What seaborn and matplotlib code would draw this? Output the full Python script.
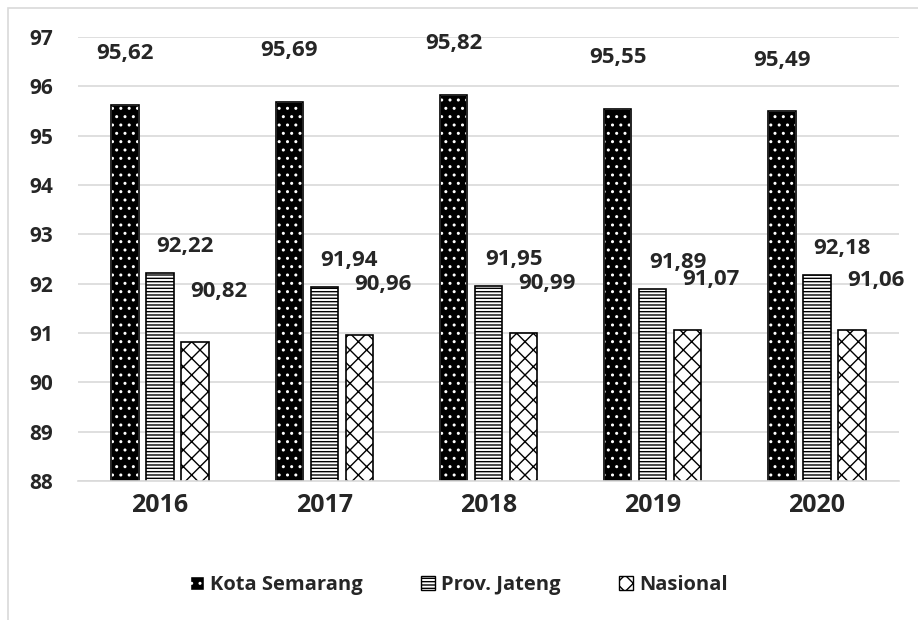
import pandas as pd
import matplotlib.pyplot as plt
import seaborn as sns
from matplotlib.patches import Rectangle

sns.set_style("white")
plt.rcParams["font.family"] = ["Open Sans", "DejaVu Sans"]
plt.rcParams["font.weight"] = "bold"
plt.rcParams["hatch.linewidth"] = 1.0

years = ["2016", "2017", "2018", "2019", "2020"]
series = ["Kota Semarang", "Prov. Jateng", "Nasional"]
kota = [95.62, 95.69, 95.82, 95.55, 95.49]
jateng = [92.22, 91.94, 91.95, 91.89, 92.18]
nasional = [90.82, 90.96, 90.99, 91.07, 91.06]

df = pd.DataFrame({
    "Tahun": years * 3,
    "Seri": [s for s in series for _ in years],
    "Nilai": kota + jateng + nasional,
})

fig = plt.figure(figsize=(9.18, 6.2), dpi=100)
fig.patches.append(Rectangle((8 / 918, -0.1), 1.2, 1 - 8 / 620 + 0.1, transform=fig.transFigure,
                             fill=False, edgecolor="#d9d9d9", linewidth=1.2))
ax = fig.add_axes([78 / 918, 1 - 481 / 620, (899 - 78) / 918, (481 - 37) / 620])

sns.barplot(data=df, x="Tahun", y="Nilai", hue="Seri", hue_order=series, ax=ax,
            width=0.64, gap=0.22, palette=["black", "white", "white"], legend=False)

hatches = ["..", "-----", "xx"]
n = len(years)
for i, bar in enumerate(list(ax.patches)):
    s = i // n
    bar.set_hatch(hatches[s])
    bar.set_linewidth(1.2)
    if s == 0:
        bar.set_facecolor("black")
        bar.set_edgecolor("white")
        ax.add_patch(Rectangle(bar.get_xy(), bar.get_width(), bar.get_height(),
                               fill=False, edgecolor="black", linewidth=1.2,
                               zorder=bar.get_zorder() + 0.1))
    else:
        bar.set_facecolor("white")
        bar.set_edgecolor("black")

ax.set_ylim(88, 97)
ax.set_yticks(range(88, 98))
ax.grid(axis="y", color="#d9d9d9", linewidth=1.2)
ax.set_axisbelow(True)
for sp in ["left", "right", "top"]:
    ax.spines[sp].set_visible(False)
ax.spines["bottom"].set_color("#d9d9d9")
ax.spines["bottom"].set_linewidth(1.2)
ax.tick_params(axis="y", length=0, labelsize=15, pad=18)
ax.tick_params(axis="x", length=0, labelsize=18, pad=9)
for lab in ax.get_xticklabels() + ax.get_yticklabels():
    lab.set_fontweight("bold")
ax.set_xlabel("")
ax.set_ylabel("")

# data labels
offsets = [(0, 37), (18, 19), (17, 36)]
vals = [kota, jateng, nasional]
for i, bar in enumerate(list(ax.patches)[:3 * n]):
    s = i // n
    v = vals[s][i % n]
    x = bar.get_x() + bar.get_width() / 2
    ax.annotate(f"{v:.2f}".replace(".", ","), (x, v), xytext=offsets[s],
                textcoords="offset points", ha="center", va="center",
                fontsize=16, fontweight="bold", annotation_clip=False)

handles = []
for s in range(3):
    if s == 0:
        h = Rectangle((0, 0), 1, 1, facecolor="black", edgecolor="white", hatch="..")
    else:
        h = Rectangle((0, 0), 1, 1, facecolor="white", edgecolor="black", hatch=hatches[s])
    handles.append(h)
fig.legend(handles, series, loc="center", bbox_to_anchor=(0.5, 1 - 585 / 620), ncol=3,
           frameon=False, prop={"size": 14.5, "weight": "bold"}, handlelength=0.7,
           handleheight=0.7, columnspacing=2.9, handletextpad=0.3)

plt.savefig("out.png", dpi=100)
